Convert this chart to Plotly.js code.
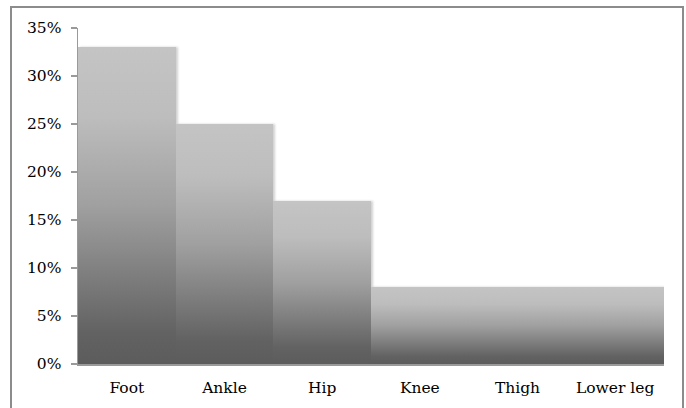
<!DOCTYPE html>
<html>
<head>
<meta charset="utf-8">
<script src="https://cdn.plot.ly/plotly-3.0.1.min.js"></script>
<style>
  html, body { margin: 0; padding: 0; background: #fff; }
  #frame { position: absolute; left: 10px; top: 6px; width: 674px; height: 410px; border: 2px solid #8c8c8c; box-sizing: border-box; }
  #chart { position: absolute; left: 0; top: 0; width: 686px; height: 408px; }
  .bars path { filter: drop-shadow(2px 0px 1px rgba(0,0,0,0.18)); }
</style>
</head>
<body>
<div id="frame"></div>
<div id="chart"></div>
<script>
const categories = ["Foot", "Ankle", "Hip", "Knee", "Thigh", "Lower leg"];
const shares = [0.33, 0.25, 0.17, 0.08, 0.08, 0.08];
const yTickValues = [0, 0.05, 0.10, 0.15, 0.20, 0.25, 0.30, 0.35];

const trace = {
  type: "bar",
  x: categories,
  y: shares,
  marker: { color: "#9a9a9a", line: { width: 0 } },
  hoverinfo: "x+y"
};

const layout = {
  width: 686, height: 408,
  margin: { l: 78, r: 22, t: 28, b: 44 },
  paper_bgcolor: "rgba(0,0,0,0)",
  plot_bgcolor: "rgba(0,0,0,0)",
  bargap: 0,
  showlegend: false,
  font: { family: "DejaVu Serif, serif", size: 15.5, color: "#000" },
  xaxis: {
    showline: true, linecolor: "#9a9a9a", linewidth: 1.5,
    ticks: "", showgrid: false, zeroline: false,
    ticklabelstandoff: 9,
    tickfont: { family: "DejaVu Serif, serif", size: 15.5, color: "#000" }
  },
  yaxis: {
    range: [0, 0.35],
    tickvals: yTickValues, tickformat: ".0%",
    showline: true, linecolor: "#9a9a9a", linewidth: 1.5,
    ticks: "outside", ticklen: 6, tickcolor: "#9a9a9a", tickwidth: 1.5,
    showgrid: false, zeroline: false,
    ticklabelstandoff: 6,
    tickfont: { family: "DejaVu Serif, serif", size: 15.5, color: "#000" }
  }
};

Plotly.newPlot("chart", [trace], layout, { displayModeBar: false, staticPlot: true }).then(gd => {
  const svg = gd.querySelector("svg.main-svg");
  const ns = "http://www.w3.org/2000/svg";
  let defs = svg.querySelector("defs");
  if (!defs) { defs = document.createElementNS(ns, "defs"); svg.insertBefore(defs, svg.firstChild); }
  const grad = document.createElementNS(ns, "linearGradient");
  grad.setAttribute("id", "barGrad");
  grad.setAttribute("x1", "0"); grad.setAttribute("y1", "0");
  grad.setAttribute("x2", "0"); grad.setAttribute("y2", "1");
  const stops = [[0, "#c4c4c4"], [0.22, "#bdbdbd"], [0.5, "#a0a0a0"], [0.72, "#7e7e7e"], [0.9, "#626262"], [1, "#5c5c5c"]];
  stops.forEach(([o, c]) => {
    const s = document.createElementNS(ns, "stop");
    s.setAttribute("offset", o); s.setAttribute("stop-color", c);
    grad.appendChild(s);
  });
  defs.appendChild(grad);
  gd.querySelectorAll(".bars path").forEach(p => { p.style.fill = "url(#barGrad)"; p.style.fillOpacity = 1; });
});
</script>
</body>
</html>
